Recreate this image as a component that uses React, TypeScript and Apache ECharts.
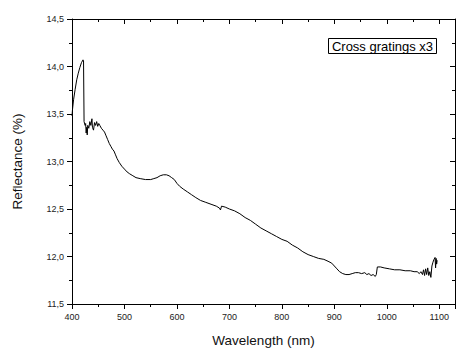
import React, { useEffect, useRef } from "react";
import * as echarts from "echarts";

const wavelength = [
  400, 401, 403, 406, 409, 412, 415, 418, 421, 422, 423, 425, 426, 427, 428, 429, 430, 432, 434, 436, 438, 439,
  441, 443, 445, 447, 449, 451, 453, 456, 459, 462, 465, 468, 471, 474, 477, 480, 483, 486, 490, 495, 500, 505,
  510, 516, 522, 530, 540, 550, 556, 562, 568, 574, 580, 585, 590, 595, 600, 605, 612, 620, 628, 636, 645, 655,
  665, 675, 681, 683, 685, 692, 700, 710, 720, 730, 740, 750, 760, 770, 780, 790, 800, 810, 820, 830, 840, 850,
  860, 870, 880, 888, 895, 900, 905, 910, 916, 922, 928, 934, 940, 946, 952, 958, 962, 966, 970, 974, 978, 980,
  982, 988, 995, 1005, 1015, 1025, 1035, 1045, 1052, 1058, 1062, 1065, 1068, 1070, 1072, 1074, 1076, 1078, 1080,
  1082, 1084, 1086, 1088, 1090, 1092, 1093, 1094, 1095, 1096,
];

const reflectance = [
  13.48, 13.55, 13.65, 13.76, 13.86, 13.93, 13.99, 14.04, 14.07, 14.06, 13.42, 13.38, 13.4, 13.3, 13.36, 13.28,
  13.38, 13.35, 13.42, 13.38, 13.45, 13.36, 13.33, 13.41, 13.38, 13.42, 13.37, 13.4, 13.38, 13.35, 13.33, 13.31,
  13.27, 13.23, 13.19, 13.16, 13.13, 13.11, 13.07, 13.03, 12.99, 12.95, 12.92, 12.89, 12.87, 12.85, 12.83, 12.82,
  12.81, 12.81, 12.82, 12.83, 12.85, 12.86, 12.86, 12.85, 12.83, 12.81, 12.77, 12.74, 12.71, 12.68, 12.65, 12.62,
  12.59, 12.57, 12.55, 12.53, 12.51, 12.49, 12.53, 12.52, 12.5, 12.48, 12.45, 12.41, 12.38, 12.34, 12.3, 12.27,
  12.24, 12.21, 12.18, 12.16, 12.12, 12.09, 12.05, 12.02, 12.0, 11.98, 11.97, 11.95, 11.93, 11.9, 11.87, 11.84,
  11.82, 11.81, 11.81, 11.82, 11.83, 11.83, 11.82, 11.83, 11.81, 11.82, 11.8, 11.81, 11.79, 11.81, 11.89, 11.89,
  11.88, 11.87, 11.86, 11.86, 11.85, 11.85, 11.84, 11.84, 11.82, 11.84, 11.81, 11.86, 11.8, 11.87, 11.81, 11.88,
  11.8, 11.84, 11.78, 11.9, 11.94, 11.97, 11.99, 11.88, 11.98, 11.92, 11.96,
];

const xTicks = [400, 500, 600, 700, 800, 900, 1000, 1100];
const seriesName = "Cross gratings x3";
const xTitle = "Wavelength (nm)";
const yTitle = "Reflectance (%)";

const FONT = "Liberation Sans, Arial, sans-serif";

export default function App() {
  const ref = useRef<HTMLDivElement>(null);
  useEffect(() => {
    if (!ref.current) return;
    const chart = echarts.init(ref.current, null, { renderer: "svg" });
    const data = wavelength.map((w, i) => [w, reflectance[i]]);
    const baseLine = { show: true, onZero: false, lineStyle: { color: "#000", width: 1 } };
    chart.setOption({
      animation: false,
      backgroundColor: "#fff",
      grid: { left: 72, right: 19, top: 19, bottom: 50, containLabel: false },
      xAxis: [
        {
          type: "value",
          min: 400,
          max: 1130,
          interval: 100,
          position: "bottom",
          axisLine: baseLine,
          axisTick: { show: true, length: 5, inside: false, lineStyle: { color: "#000" } },
          minorTick: { show: true, splitNumber: 2, length: 3, lineStyle: { color: "#000" } },
          splitLine: { show: false },
          axisLabel: {
            fontFamily: FONT,
            fontSize: 9,
            color: "#222",
            margin: 8,
            formatter: (v: number) => (xTicks.includes(v) ? String(v) : ""),
          },
          name: xTitle,
          nameLocation: "middle",
          nameGap: 29,
          nameTextStyle: { fontFamily: FONT, fontSize: 13.5, color: "#111" },
        },
        {
          type: "value",
          min: 400,
          max: 1130,
          interval: 100,
          position: "top",
          axisLine: baseLine,
          axisTick: { show: true, length: 5, inside: true, lineStyle: { color: "#000" } },
          minorTick: { show: true, splitNumber: 2, length: 3, lineStyle: { color: "#000" } },
          splitLine: { show: false },
          axisLabel: { show: false },
        },
      ],
      yAxis: [
        {
          type: "value",
          min: 11.5,
          max: 14.5,
          interval: 0.5,
          position: "left",
          axisLine: baseLine,
          axisTick: { show: true, length: 5, inside: false, lineStyle: { color: "#000" } },
          minorTick: { show: true, splitNumber: 2, length: 3, lineStyle: { color: "#000" } },
          splitLine: { show: false },
          axisLabel: {
            fontFamily: FONT,
            fontSize: 9,
            color: "#222",
            margin: 8,
            formatter: (v: number) => v.toFixed(1).replace(".", ","),
          },
          name: yTitle,
          nameLocation: "middle",
          nameGap: 48,
          nameTextStyle: { fontFamily: FONT, fontSize: 13.5, color: "#111" },
        },
        {
          type: "value",
          min: 11.5,
          max: 14.5,
          interval: 0.5,
          position: "right",
          axisLine: baseLine,
          axisTick: { show: true, length: 5, inside: true, lineStyle: { color: "#000" } },
          minorTick: { show: true, splitNumber: 2, length: 3, lineStyle: { color: "#000" } },
          splitLine: { show: false },
          axisLabel: { show: false },
        },
      ],
      series: [
        {
          name: seriesName,
          type: "line",
          data,
          showSymbol: false,
          symbol: "none",
          lineStyle: { color: "#000", width: 1 },
          xAxisIndex: 0,
          yAxisIndex: 0,
        },
      ],
      graphic: [
        {
          type: "group",
          left: 328,
          top: 38,
          children: [
            {
              type: "rect",
              shape: { x: 0, y: 0, width: 108, height: 15 },
              style: { fill: "#fff", stroke: "#000", lineWidth: 1 },
            },
            {
              type: "text",
              x: 54,
              y: 7.5,
              style: {
                text: seriesName,
                fontFamily: FONT,
                fontSize: 13,
                fill: "#000",
                align: "center",
                verticalAlign: "middle",
              },
            },
          ],
        },
      ],
    });
    return () => chart.dispose();
  }, []);
  return <div ref={ref} style={{ width: 474, height: 354, position: "absolute", left: 0, top: 0 }} />;
}
